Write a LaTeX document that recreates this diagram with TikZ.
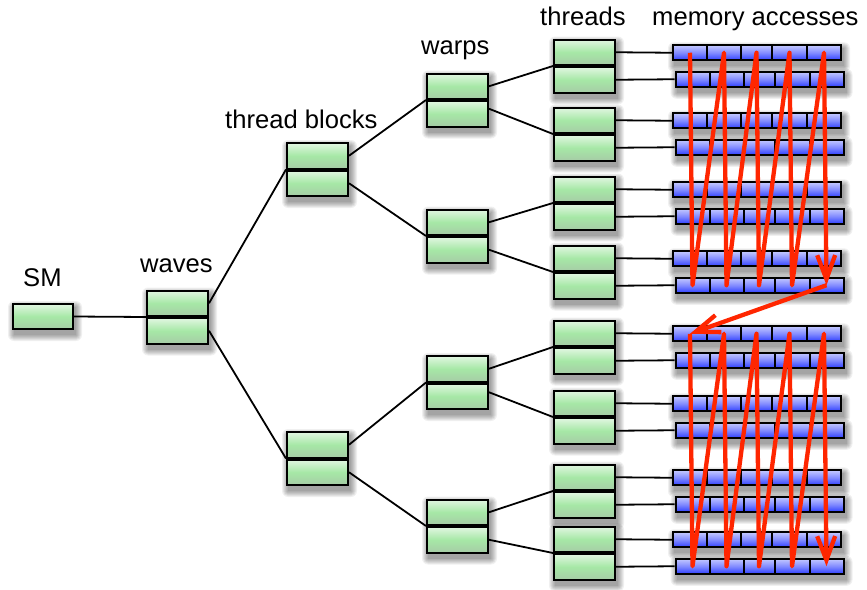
\documentclass[tikz,border=0pt]{standalone}
\usepackage{fontspec}
\setmainfont{Liberation Sans}
\usetikzlibrary{calc,arrows.meta}
\pgfdeclarelayer{paper}
\pgfdeclarelayer{shade}
\pgfdeclarelayer{wire}
\pgfsetlayers{paper,shade,wire,main}
\definecolor{gtop}{HTML}{E2F6E2}
\definecolor{gmid}{HTML}{A6E8A6}
\definecolor{gbot}{HTML}{A6CCA6}
\definecolor{btop}{HTML}{C4C9FF}
\definecolor{bmid}{HTML}{828BFF}
\definecolor{bbot}{HTML}{3040FF}
\definecolor{accred}{HTML}{FF2600}

% soft drop shadow under the rectangle spanned by two nodes
\newcommand\dropshade[2]{%
  \begin{pgfonlayer}{shade}
  \foreach \e in {0,...,6}{
    \fill[black,opacity=0.06,rounded corners=\e pt]
      ($(#1.north west)+(2-\e,4-\e)$) rectangle ($(#2.south east)+(2+\e,5+\e)$);
  }
  \end{pgfonlayer}}

% two stacked green halves: name, x centre, y of the dividing line
\newcommand\stackbox[3]{%
  \node[gbox,anchor=south] (#1-a) at (#2,#3) {};
  \node[gbox,anchor=north] (#1-b) at (#2,#3) {};
  \dropshade{#1-a}{#1-b}}

% one row of five memory cells: row number, left x, centre y
\newcommand\memrow[3]{%
  \foreach \ci/\cw/\co in {1/34/17,2/34/51,3/31/83.5,4/35/116.5,5/34/151}{
    \node[cell,minimum width=\cw pt] (m#1-\ci) at ({#2+\co},{#3}) {};
  }
  \dropshade{m#1-1}{m#1-5}}

\begin{document}
\begin{tikzpicture}[x=1pt,y=-1pt,
  gbox/.style={draw,line width=2pt,minimum width=61pt,minimum height=25.5pt,
    inner sep=0pt,top color=gtop,bottom color=gbot,middle color=gmid},
  cell/.style={draw,line width=2pt,minimum height=15pt,inner sep=0pt,
    top color=btop,bottom color=bbot,middle color=bmid},
  conn/.style={draw,line width=1.8pt,black},
  redline/.style={draw=accred,line width=4.3pt,line join=round},
  redtip/.style={-{Straight Barb[length=24pt,width=18pt]}},
  lbl/.style={anchor=base west,inner sep=0pt,font=\fontsize{25.6}{30}\selectfont}]

\useasboundingbox (0,0) rectangle (867,589);
\begin{pgfonlayer}{paper}
  \fill[white] (0,0) rectangle (867,589);
\end{pgfonlayer}

% headings
\node[lbl] (lsm) at (23,286) {SM};
\node[lbl] (lwaves) at (140,272) {waves};
\node[lbl] (lblocks) at (225,128) {thread blocks};
\node[lbl] (lwarps) at (421,54) {warps};
\node[lbl] (lthreads) at (540,25) {threads};
\node[lbl] (lmem) at (652,25) {memory accesses};

% streaming multiprocessor
\node[gbox,minimum width=60pt,minimum height=25pt] (sm) at (43,316.5) {};
\dropshade{sm}{sm}

% waves, thread blocks, warps
\stackbox{wv}{177.5}{317}
\stackbox{bl1}{317.5}{169.5}
\stackbox{bl2}{317.5}{458.5}
\stackbox{wp1}{457.5}{100}
\stackbox{wp2}{457.5}{236}
\stackbox{wp3}{457.5}{382.5}
\stackbox{wp4}{457.5}{526}

% threads, each half feeding one row of memory cells
\foreach \k/\m in {1/66,2/134,3/203,4/272,5/347,6/417,7/491,8/553}{
  \stackbox{t\k}{584.5}{\m}
  \pgfmathtruncatemacro\ra{2*\k-1}
  \pgfmathtruncatemacro\rb{2*\k}
  \memrow{\ra}{673}{\m-13.25}
  \memrow{\rb}{675.5}{\m+13.25}
  \begin{pgfonlayer}{wire}
    \draw[conn] (t\k-a.east) -- (m\ra-1.west);
    \draw[conn] (t\k-b.east) -- (m\rb-1.west);
  \end{pgfonlayer}
}

% tree connectors
\begin{pgfonlayer}{wire}
  \draw[conn] (sm.east) -- (wv-a.south west);
  \draw[conn] (wv-a.east) -- (bl1-a.south west);
  \draw[conn] (wv-b.east) -- (bl2-a.south west);
  \draw[conn] (bl1-a.east) -- (wp1-a.south west);
  \draw[conn] (bl1-b.east) -- (wp2-a.south west);
  \draw[conn] (bl2-a.east) -- (wp3-a.south west);
  \draw[conn] (bl2-b.east) -- (wp4-a.south west);
  \draw[conn] (wp1-a.east) -- (t1-a.south west);
  \draw[conn] ([yshift=5pt]wp1-b.east) -- (t2-a.south west);
  \draw[conn] (wp2-a.east) -- (t3-a.south west);
  \draw[conn] (wp2-b.east) -- (t4-a.south west);
  \draw[conn] (wp3-a.east) -- (t5-a.south west);
  \draw[conn] ([yshift=4pt]wp3-b.east) -- (t6-a.south west);
  \draw[conn] (wp4-a.east) -- (t7-a.south west);
  \draw[conn] (wp4-b.east) -- (t8-a.south west);
\end{pgfonlayer}

% access order across the memory cells
\draw[redline,redtip] (m1-1.center) -- (m8-1.center) -- (m1-2.center)
  -- (m8-2.center) -- (m1-3.center) -- (m8-3.center) -- (m1-4.center)
  -- (m8-4.center) -- (m1-5.center) -- (m8-5.center);
\draw[redline,redtip] (m8-5.center) -- (m9-1.center);
\draw[redline,redtip] (m9-1.center) -- (m16-1.center) -- (m9-2.center)
  -- (m16-2.center) -- (m9-3.center) -- (m16-3.center) -- (m9-4.center)
  -- (m16-4.center) -- (m9-5.center) -- (m16-5.center);
\end{tikzpicture}
\end{document}
